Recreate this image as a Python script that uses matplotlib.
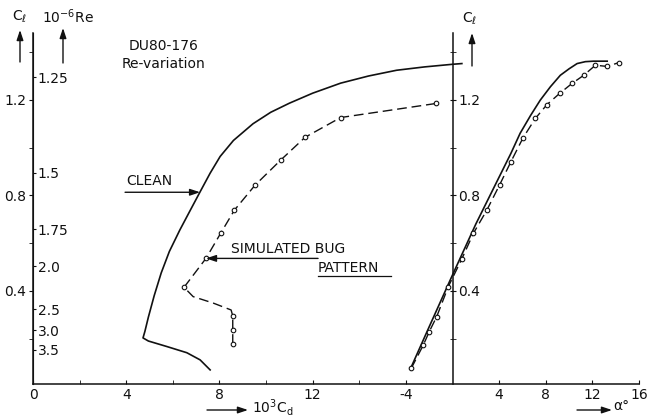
import matplotlib
matplotlib.use("Agg")
import matplotlib.pyplot as plt
from matplotlib.ticker import FixedLocator, NullFormatter


# ----------------------------------------------------------------------
# DU80-176 data: drag polar (10^3 Cd, Cl) and lift curve (alpha, Cl)
# ----------------------------------------------------------------------

clean_cd = [7.6, 7.17, 6.6, 5.74, 4.95, 4.72, 4.8, 4.95, 5.2, 5.5, 5.85, 6.3,
            6.75, 7.17, 7.6, 8.03, 8.6, 9.44, 10.2, 11.0, 12.0, 13.2, 14.4,
            15.6, 16.8, 18.0, 18.4]
clean_cl = [0.069, 0.111, 0.141, 0.167, 0.19, 0.203, 0.23, 0.29, 0.38, 0.475,
            0.565, 0.655, 0.738, 0.815, 0.893, 0.963, 1.03, 1.10, 1.148,
            1.186, 1.228, 1.27, 1.30, 1.324, 1.338, 1.349, 1.352]

bug_cd = [8.57, 8.57, 8.57, 8.5, 7.73, 6.87, 6.48, 7.42, 8.05, 8.64, 9.53,
          10.63, 11.67, 13.2, 17.3]
bug_cl = [0.178, 0.236, 0.295, 0.32, 0.349, 0.376, 0.415, 0.536, 0.641, 0.738,
          0.843, 0.948, 1.043, 1.126, 1.185]
bug_cd_marked = [0, 1, 2, 6, 7, 8, 9, 10, 11, 12, 13, 14]

clean_alpha = [-3.6, -2.0, 0.0, 2.0, 3.93, 5.0, 5.8, 6.7, 7.53, 8.4, 9.25,
               10.0, 10.69, 11.4, 12.1, 13.27]
clean_alpha_cl = [0.075, 0.25, 0.467, 0.68, 0.87, 0.975, 1.06, 1.135, 1.199,
                  1.255, 1.303, 1.33, 1.352, 1.36, 1.362, 1.362]

bug_alpha = [-3.55, -2.5, -2.0, -1.36, -0.36, 0.79, 1.79, 2.94, 4.03, 5.0,
             6.04, 7.1, 8.1, 9.19, 10.26, 11.26, 12.26, 13.27, 14.27]
bug_alpha_cl = [0.075, 0.174, 0.229, 0.292, 0.418, 0.533, 0.641, 0.738, 0.843,
                0.94, 1.04, 1.122, 1.18, 1.227, 1.269, 1.303, 1.345, 1.34,
                1.356]

# Reynolds number scale along the Cl axis of the polar
re_labels = ["1.25", "1.5", "1.75", "2.0", "2.5", "3.0", "3.5"]
re_cl = [1.295, 0.895, 0.659, 0.504, 0.324, 0.236, 0.153]

cl_major = [0.4, 0.8, 1.2]
cl_minor = [0.2, 0.6, 1.0, 1.4]
cd_major = [0, 4, 8, 12]
cd_minor = [2, 6, 10, 14]
alpha_ticks = [-4, 4, 8, 12, 16]

INK = "#111111"
plt.rcParams["font.family"] = "DejaVu Sans"
plt.rcParams["font.size"] = 10

W, H = 652, 417
fig = plt.figure(figsize=(W / 100, H / 100), dpi=100)

# one frame shared by both plots: Cd runs 0..26, alpha -36..16 on a twin
ax = fig.add_axes([33 / W, (H - 384) / H, (639 - 33) / W, (384 - 33) / H])
ax.set_xlim(0, 26)
ax.set_ylim(0.01, 1.48)
for side in ("top", "right"):
    ax.spines[side].set_visible(False)
for side in ("left", "bottom"):
    ax.spines[side].set_linewidth(1.1)
    ax.spines[side].set_color(INK)

ax.xaxis.set_major_locator(FixedLocator(cd_major))
ax.xaxis.set_minor_locator(FixedLocator(cd_minor))
ax.set_xticklabels([str(v) for v in cd_major])
ax.tick_params(axis="x", which="both", direction="in", length=3, pad=3,
               colors=INK)

ax.yaxis.set_major_locator(FixedLocator(cl_major))
ax.yaxis.set_minor_locator(FixedLocator(cl_minor))
ax.set_yticklabels([f"{v:.1f}" for v in cl_major])
ax.tick_params(axis="y", which="both", direction="out", length=3, pad=2,
               colors=INK)

ax2 = ax.twiny()
ax2.set_xlim(-36, 16)
for s in ax2.spines.values():
    s.set_visible(False)
ax2.xaxis.set_ticks_position("bottom")
ax2.set_xticks(alpha_ticks)
ax2.set_xticklabels(["-4", "4", "8", "12", ""])
ax2.tick_params(axis="x", direction="in", length=3, pad=3, colors=INK)

# Re labels on the inner side of the left axis
ax3 = ax.twinx()
ax3.set_ylim(ax.get_ylim())
for side in ("top", "left", "bottom"):
    ax3.spines[side].set_visible(False)
ax3.spines["right"].set_position(("axes", 0))
ax3.spines["right"].set_color(INK)
ax3.set_yticks(re_cl)
ax3.set_yticklabels(re_labels)
ax3.tick_params(axis="y", direction="out", length=2.5, pad=1, colors=INK)

# Cl axis of the lift curve, standing at alpha = 0
ax4 = ax2.twinx()
ax4.set_ylim(ax.get_ylim())
for side in ("top", "left", "bottom"):
    ax4.spines[side].set_visible(False)
ax4.spines["right"].set_position(("data", 0))
ax4.spines["right"].set_linewidth(1.1)
ax4.spines["right"].set_color(INK)
ax4.yaxis.set_major_locator(FixedLocator(cl_major))
ax4.yaxis.set_minor_locator(FixedLocator(cl_minor))
ax4.yaxis.set_minor_formatter(NullFormatter())
ax4.set_yticklabels([f"{v:.1f}" for v in cl_major])
ax4.tick_params(axis="y", which="both", direction="inout", length=4, pad=2,
                colors=INK)

# curves
ax.plot(clean_cd, clean_cl, color=INK, lw=1.2)
ax.plot(bug_cd, bug_cl, color=INK, lw=1.0, ls=(0, (7, 3.5)), marker="o",
        ms=3.3, mfc="white", mew=0.8, markevery=bug_cd_marked)
ax2.plot(clean_alpha, clean_alpha_cl, color=INK, lw=1.2)
ax2.plot(bug_alpha, bug_alpha_cl, color=INK, lw=1.0, ls=(0, (7, 3.5)),
         marker="o", ms=3.3, mfc="white", mew=0.8)

arrow = dict(arrowstyle="-|>,head_length=0.6,head_width=0.2", color=INK,
             lw=1.0, shrinkA=0, shrinkB=0)

# labels on the curves
ax.annotate("", xy=(7.17, 0.813), xytext=(3.95, 0.813), arrowprops=arrow)
ax.text(4.0, 0.83, "CLEAN", ha="left", va="bottom", color=INK)
ax.annotate("", xy=(7.42, 0.536), xytext=(12.23, 0.536), arrowprops=arrow)
ax.text(8.5, 0.575, "SIMULATED BUG", ha="left", va="center", color=INK)
ax.text(12.23, 0.496, "PATTERN", ha="left", va="center", color=INK)
ax.plot([12.23, 15.35], [0.462, 0.462], color=INK, lw=0.9)

ax.text(5.6, 1.425, "DU80-176", ha="center", va="center", color=INK)
ax.text(5.6, 1.35, "Re-variation", ha="center", va="center", color=INK)

ax2.text(16, -0.03, "16", ha="center", va="center", color=INK,
         transform=ax2.get_xaxis_transform(), clip_on=False)


# axis captions with arrows, placed in figure pixels
def caption_arrow(x0, y0, x1, y1):
    ax.annotate("", xy=(x1, H - y1), xytext=(x0, H - y0),
                xycoords="figure pixels", textcoords="figure pixels",
                arrowprops=arrow, annotation_clip=False)


caption_arrow(20, 62, 20, 30)
fig.text(12 / W, (H - 17) / H, r"C$_\ell$", ha="left", va="center",
         color=INK)
caption_arrow(63, 63, 63, 28)
fig.text(42 / W, (H - 17) / H, r"10$^{-6}$Re", ha="left", va="center",
         color=INK)
caption_arrow(472, 66, 472, 33)
fig.text(462 / W, (H - 19) / H, r"C$_\ell$", ha="left", va="center",
         color=INK)

caption_arrow(207, 410, 248, 410)
fig.text(252 / W, (H - 407) / H, r"10$^3$C$_\mathrm{d}$", ha="left",
         va="center", color=INK)
caption_arrow(577, 410, 612, 410)
fig.text(613 / W, (H - 406) / H, "α°", ha="left", va="center", color=INK)

fig.savefig("out.png", dpi=100, facecolor="white")
